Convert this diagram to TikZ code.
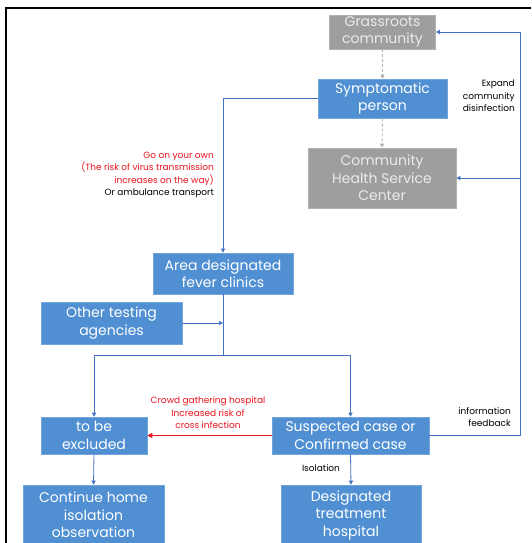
\documentclass[tikz,border=0pt]{standalone}
\usepackage{fontspec}
\setmainfont{Poppins}
\usetikzlibrary{arrows.meta}
\definecolor{boxblue}{RGB}{80,144,210}
\definecolor{boxgray}{RGB}{158,158,158}
\definecolor{linkblue}{RGB}{68,114,196}
\definecolor{riskred}{RGB}{232,20,30}
\tikzset{
  bluebox/.style={fill=boxblue, draw=boxblue!80!white, line width=0.6pt, text=white, align=center, inner sep=0pt, font=\fontsize{14}{17.5}\selectfont},
  graybox/.style={fill=boxgray, draw=boxgray!80!white, line width=0.6pt, text=white!92!black, align=center, inner sep=0pt, font=\fontsize{14}{17.5}\selectfont},
  link/.style={draw=linkblue, line width=0.8pt, -{Triangle[length=4pt,width=4pt]}},
  plainlink/.style={draw=linkblue, line width=0.8pt},
  dashlink/.style={draw=boxgray!80!white, line width=0.8pt, dashed, dash pattern=on 3pt off 2pt, -{Triangle[length=4pt,width=4pt]}},
  redlink/.style={draw=riskred, line width=0.8pt, -{Triangle[length=5pt,width=5pt]}},
  smalltext/.style={font=\fontsize{9}{12.5}\selectfont, inner sep=0pt}
}
\begin{document}
\begin{tikzpicture}[x=1pt,y=-1pt]
\useasboundingbox (0,0) rectangle (531,543);
\fill[white] (0,0) rectangle (531,543);
\draw[black, line width=1.3pt] (531,8) -- (6,8) -- (6,545);

\node[graybox, minimum width=106pt, minimum height=34pt] (grass) at (382.5,32) {Grassroots\\community};
\node[bluebox, minimum width=129pt, minimum height=39pt] (symp) at (382.5,98.5) {Symptomatic\\person};
\node[graybox, minimum width=148pt, minimum height=60pt] (chsc) at (382,178) {Community\\Health Service\\Center};
\node[bluebox, minimum width=140pt, minimum height=41pt] (area) at (223,273.5) {Area designated\\fever clinics};
\node[bluebox, minimum width=141pt, minimum height=42pt] (other) at (111.5,323) {Other testing\\agencies};
\node[bluebox, minimum width=106pt, minimum height=37pt] (excl) at (94,435.5) {to be\\excluded};
\node[bluebox, minimum width=157pt, minimum height=37pt] (susp) at (350.5,435.5) {Suspected case or\\Confirmed case};
\node[bluebox, minimum width=141pt, minimum height=60pt] (home) at (93.5,515) {Continue home\\isolation\\observation};
\node[bluebox, minimum width=140pt, minimum height=60pt] (hosp) at (351,515) {Designated\\treatment\\hospital};

\coordinate (split) at (223,355);
\coordinate (join) at (223,323);
\coordinate (fbbot) at (520,435.5);
\coordinate (fbtop) at (520,32);
\coordinate (fbmid) at (520,178);

\draw[dashlink] (grass.south) -- (symp.north);
\draw[dashlink] (symp.south) -- (chsc.north);
\draw[link] (symp.west) -| (area.north);
\draw[plainlink] (area.south) -- (split);
\draw[link] (split) -| (excl.north);
\draw[link] (split) -| (susp.north);
\draw[link] (other.east) -- (join);
\draw[redlink] (susp.west) -- (excl.east);
\draw[plainlink] (susp.east) -- (fbbot) -- (fbtop);
\draw[link] (fbtop) -- (grass.east);
\draw[link] (fbmid) -- (chsc.east);
\draw[link] (excl.south) -- (home.north);
\draw[link] (susp.south) -- (hosp.north);

\node[smalltext, align=right, anchor=east] (expand) at (515,96) {Expand\\community\\disinfection};
\node[smalltext, align=right, anchor=east] (goown) at (214,175) {\textcolor{riskred}{Go on your own}\\\textcolor{riskred}{(The risk of virus transmission}\\\textcolor{riskred}{increases on the way)}\\Or ambulance transport};
\node[smalltext, align=center, text=riskred] (crowd) at (208,413) {Crowd gathering hospital\\Increased risk of\\cross infection};
\node[smalltext, align=right, anchor=east] (info) at (511,417) {information\\feedback};
\node[smalltext] (isol) at (321,468) {Isolation};
\end{tikzpicture}
\end{document}
